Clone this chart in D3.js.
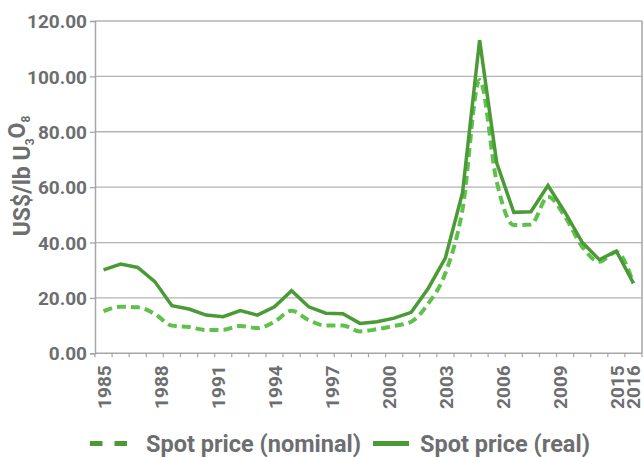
<!DOCTYPE html>
<html>
<head>
<meta charset="utf-8">
<script src="https://cdn.jsdelivr.net/npm/d3@7"></script>
<style>
  html, body { margin: 0; padding: 0; background: #fff; }
  svg { display: block; font-family: Roboto, "Open Sans", sans-serif; font-weight: 700; }
</style>
</head>
<body>
<svg id="chart" width="644" height="457"></svg>
<script>
// ---- data ----
const years = [1985,1986,1987,1988,1989,1990,1991,1992,1993,1994,1995,1996,1997,1998,1999,2000,
               2001,2002,2003,2004,2005,2006,2007,2008,2009,2010,2011,2012,2013,2014,2015,2016];
const nominal = [15.2,16.8,16.6,14.2,10.0,9.5,8.4,8.5,9.9,9.1,11.4,15.4,12.0,10.0,10.0,7.9,
                 8.7,9.9,11.4,18.0,29.0,52.0,98.7,62.0,46.3,46.5,56.5,49.3,38.5,33.1,36.6,25.3];
const real = [30.1,32.2,31.0,25.9,17.2,16.0,13.8,13.2,15.4,13.8,16.8,22.6,16.8,14.5,14.3,10.8,
              11.4,12.7,14.8,23.5,34.5,58.0,113.1,68.8,50.9,51.1,60.6,50.9,40.1,33.8,36.9,25.3];
const xTickLabels = ["1985","1988","1991","1994","1997","2000","2003","2006","2009","2015","2016"];
const yTicks = [0,20,40,60,80,100,120];
const seriesNames = ["Spot price (nominal)", "Spot price (real)"];

// ---- styles ----
const textColor = "#6d6e70";
const gridColor = "#b3b3b3";
const realColor = "#4a9b36";
const nomColor = "#5fc04c";

const svg = d3.select("#chart");
const pLeft = 95, pRight = 642, pTop = 21, pBottom = 353.3;

const x = d3.scaleBand().domain(years).range([pLeft, pRight]).padding(0);
const xc = d => x(d) + x.bandwidth() / 2;
const y = d3.scaleLinear().domain([0, 120]).range([pBottom, pTop]);

// gridlines
svg.append("g").selectAll("line").data(yTicks.filter(t => t > 0)).join("line")
  .attr("x1", pLeft).attr("x2", pRight)
  .attr("y1", d => y(d)).attr("y2", d => y(d))
  .attr("stroke", gridColor).attr("stroke-width", 1.3);

// right border
svg.append("line").attr("x1", pRight).attr("x2", pRight).attr("y1", pTop).attr("y2", pBottom)
  .attr("stroke", "#a6a6a6").attr("stroke-width", 1.5);

// y axis
const yAxis = svg.append("g").attr("transform", `translate(${pLeft},0)`)
  .call(d3.axisLeft(y).tickValues(yTicks).tickFormat(d3.format(".2f")).tickSize(5).tickPadding(3));
yAxis.select(".domain").attr("stroke", "#a6a6a6").attr("stroke-width", 1.5);
yAxis.selectAll(".tick line").attr("stroke", "#a6a6a6").attr("stroke-width", 1.3);
yAxis.selectAll(".tick text").attr("fill", textColor).attr("font-size", 19)
  .attr("font-family", "Roboto, sans-serif").attr("font-weight", 700).attr("dy", "0.35em");

// x axis line + boundary ticks
const xg = svg.append("g");
xg.append("line").attr("x1", pLeft).attr("x2", pRight).attr("y1", pBottom).attr("y2", pBottom)
  .attr("stroke", "#a6a6a6").attr("stroke-width", 1.5);
const boundaries = years.map(d => x(d)).concat([pRight]);
xg.selectAll("line.tk").data(boundaries).join("line").attr("class", "tk")
  .attr("x1", d => d).attr("x2", d => d).attr("y1", pBottom).attr("y2", pBottom + 4)
  .attr("stroke", "#a6a6a6").attr("stroke-width", 1.2);

// x tick labels: first ten evenly spread from first year to 2015, last at 2016
const mainLabels = xTickLabels.slice(0, -1);
const lastLabel = xTickLabels[xTickLabels.length - 1];
const xl = d3.scalePoint().domain(mainLabels).range([xc(+mainLabels[0]), xc(+mainLabels[mainLabels.length - 1])]);
const labelPos = d => d === lastLabel ? xc(+lastLabel) : xl(d) + 1;
xg.selectAll("text").data(xTickLabels).join("text")
  .attr("transform", d => `translate(${labelPos(d)},${pBottom + 12}) rotate(-90)`)
  .attr("text-anchor", "end").attr("dy", "0.35em")
  .attr("fill", textColor).attr("font-size", 19)
  .text(d => d);

// y title
const yt = svg.append("text")
  .attr("transform", `translate(21.5,176) rotate(-90)`)
  .attr("text-anchor", "middle").attr("dy", "0.35em")
  .attr("fill", textColor).attr("font-size", 23);
yt.append("tspan").text("US$/lb U");
yt.append("tspan").attr("font-size", 12).attr("dy", "0.4em").text("3");
yt.append("tspan").attr("dy", "-0.4em").text("O");
yt.append("tspan").attr("font-size", 12).attr("dy", "0.4em").text("8");

// lines
const lineNom = d3.line().x((d, i) => xc(years[i])).y(d => y(d)).curve(d3.curveMonotoneX);
const lineReal = d3.line().x((d, i) => xc(years[i])).y(d => y(d));

svg.append("path").datum(nominal).attr("d", lineNom)
  .attr("fill", "none").attr("stroke", nomColor).attr("stroke-width", 4)
  .attr("stroke-dasharray", "9,5");
svg.append("path").datum(real).attr("d", lineReal)
  .attr("fill", "none").attr("stroke", realColor).attr("stroke-width", 3.5)
  .attr("stroke-linejoin", "miter");

// legend
const lg = svg.append("g");
const ly = 443.5;
lg.append("line").attr("x1", 90).attr("x2", 127).attr("y1", ly).attr("y2", ly)
  .attr("stroke", realColor).attr("stroke-width", 5).attr("stroke-dasharray", "12.5,12");
lg.append("text").attr("x", 146).attr("y", 452).attr("fill", textColor).attr("font-size", 23.5)
  .text(seriesNames[0]);
lg.append("line").attr("x1", 373).attr("x2", 409).attr("y1", ly).attr("y2", ly)
  .attr("stroke", realColor).attr("stroke-width", 5);
lg.append("text").attr("x", 420).attr("y", 452).attr("fill", textColor).attr("font-size", 23.5)
  .text(seriesNames[1]);
</script>
</body>
</html>
